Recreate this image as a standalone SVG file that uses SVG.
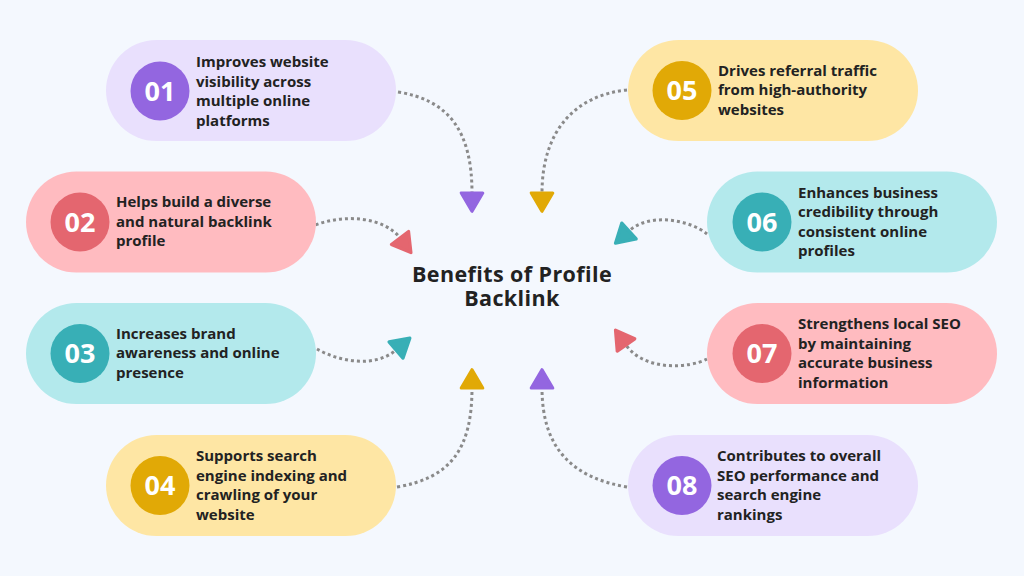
<svg xmlns="http://www.w3.org/2000/svg" width="1024" height="576" viewBox="0 0 1024 576">
<style>
.t{font-family:"Open Sans","Noto Sans","Liberation Sans",sans-serif;font-weight:700;font-size:15px;fill:#222222}
.n{font-family:"Open Sans","Noto Sans","Liberation Sans",sans-serif;font-weight:700;font-size:27px;fill:#ffffff;text-anchor:middle}
.title{font-family:"Open Sans","Noto Sans","Liberation Sans",sans-serif;font-weight:700;font-size:21.5px;letter-spacing:0.4px;fill:#222222;text-anchor:middle}
.c{fill:none;stroke:#8a8a8a;stroke-width:3;stroke-dasharray:3 3}
.pp{fill:#E9E0FD}.pc{fill:#9366E0}
.rp{fill:#FFBBC0}.rc{fill:#E4666F}
.cp{fill:#B3E9EC}.cc{fill:#38AFB6}
.yp{fill:#FEE6A4}.yc{fill:#E1A906}
</style>
<defs>
<marker id="aP" markerUnits="userSpaceOnUse" markerWidth="30" markerHeight="30" viewBox="-4 -14 28 28" refX="0" refY="0" orient="auto"><path d="M0,-10 L17,0 L0,10 Z" fill="#9366E0" stroke="#9366E0" stroke-width="3" stroke-linejoin="round"/></marker>
<marker id="aR" markerUnits="userSpaceOnUse" markerWidth="30" markerHeight="30" viewBox="-4 -14 28 28" refX="0" refY="0" orient="auto"><path d="M0,-10 L17,0 L0,10 Z" fill="#E4666F" stroke="#E4666F" stroke-width="3" stroke-linejoin="round"/></marker>
<marker id="aC" markerUnits="userSpaceOnUse" markerWidth="30" markerHeight="30" viewBox="-4 -14 28 28" refX="0" refY="0" orient="auto"><path d="M0,-10 L17,0 L0,10 Z" fill="#38AFB6" stroke="#38AFB6" stroke-width="3" stroke-linejoin="round"/></marker>
<marker id="aY" markerUnits="userSpaceOnUse" markerWidth="30" markerHeight="30" viewBox="-4 -14 28 28" refX="0" refY="0" orient="auto"><path d="M0,-10 L17,0 L0,10 Z" fill="#E1A906" stroke="#E1A906" stroke-width="3" stroke-linejoin="round"/></marker>
</defs>
<rect width="1024" height="576" fill="#F4F8FE"/>

<g id="connectors">
<path class="c" d="M398,92 C448,100 472,130 472,193" marker-end="url(#aP)"/>
<path class="c" d="M310,227 C345,212 385,218 400,238" marker-end="url(#aR)"/>
<path class="c" d="M317,349 C340,362 375,368 396,350" marker-end="url(#aC)"/>
<path class="c" d="M397,487 C450,478 472,450 472,388" marker-end="url(#aY)"/>
<path class="c" d="M627,90 C576,95 542,130 542,193" marker-end="url(#aY)"/>
<path class="c" d="M707,234 C690,220 650,212 629,231" marker-end="url(#aC)"/>
<path class="c" d="M707,359 C690,368 645,372 626,345" marker-end="url(#aR)"/>
<path class="c" d="M627,487 C574,478 542,450 542,388" marker-end="url(#aP)"/>
</g>

<g id="title">
<text class="title"><tspan x="512" y="282">Benefits of Profile</tspan><tspan x="512" y="306">Backlink</tspan></text>
</g>

<g id="node01">
<rect class="pp" x="106" y="40" width="290" height="101" rx="50.5"/>
<circle class="pc" cx="160" cy="91" r="29.5"/>
<text class="n" x="160" y="100.5">01</text>
<text class="t"><tspan x="196" y="67">Improves website</tspan><tspan x="196" y="86.5">visibility across</tspan><tspan x="196" y="106">multiple online</tspan><tspan x="196" y="125.5">platforms</tspan></text>
</g>

<g id="node02">
<rect class="rp" x="26" y="171.5" width="290" height="101" rx="50.5"/>
<circle class="rc" cx="80" cy="222" r="29.5"/>
<text class="n" x="80" y="231.5">02</text>
<text class="t"><tspan x="116" y="207">Helps build a diverse</tspan><tspan x="116" y="226.5">and natural backlink</tspan><tspan x="116" y="246">profile</tspan></text>
</g>

<g id="node03">
<rect class="cp" x="26" y="303" width="290" height="101" rx="50.5"/>
<circle class="cc" cx="80" cy="353.5" r="29.5"/>
<text class="n" x="80" y="363">03</text>
<text class="t"><tspan x="116" y="338.5">Increases brand</tspan><tspan x="116" y="358">awareness and online</tspan><tspan x="116" y="377.5">presence</tspan></text>
</g>

<g id="node04">
<rect class="yp" x="106" y="435" width="290" height="101" rx="50.5"/>
<circle class="yc" cx="160" cy="485.5" r="29.5"/>
<text class="n" x="160" y="495">04</text>
<text class="t"><tspan x="196" y="461">Supports search</tspan><tspan x="196" y="480.5">engine indexing and</tspan><tspan x="196" y="500">crawling of your</tspan><tspan x="196" y="519.5">website</tspan></text>
</g>

<g id="node05">
<rect class="yp" x="628" y="40" width="290" height="101" rx="50.5"/>
<circle class="yc" cx="682" cy="90.5" r="29.5"/>
<text class="n" x="682" y="100">05</text>
<text class="t"><tspan x="718" y="75.5">Drives referral traffic</tspan><tspan x="718" y="95">from high-authority</tspan><tspan x="718" y="114.5">websites</tspan></text>
</g>

<g id="node06">
<rect class="cp" x="707" y="171.5" width="290" height="101" rx="50.5"/>
<circle class="cc" cx="762" cy="222" r="29.5"/>
<text class="n" x="762" y="231.5">06</text>
<text class="t"><tspan x="798" y="197.5">Enhances business</tspan><tspan x="798" y="217">credibility through</tspan><tspan x="798" y="236.5">consistent online</tspan><tspan x="798" y="256">profiles</tspan></text>
</g>

<g id="node07">
<rect class="rp" x="707" y="303" width="290" height="101" rx="50.5"/>
<circle class="rc" cx="762" cy="353.5" r="29.5"/>
<text class="n" x="762" y="363">07</text>
<text class="t"><tspan x="798" y="329">Strengthens local SEO</tspan><tspan x="798" y="348.5">by maintaining</tspan><tspan x="798" y="368">accurate business</tspan><tspan x="798" y="387.5">information</tspan></text>
</g>

<g id="node08">
<rect class="pp" x="628" y="435" width="290" height="101" rx="50.5"/>
<circle class="pc" cx="682" cy="485.5" r="29.5"/>
<text class="n" x="682" y="495">08</text>
<text class="t"><tspan x="717" y="461">Contributes to overall</tspan><tspan x="717" y="480.5">SEO performance and</tspan><tspan x="717" y="500">search engine</tspan><tspan x="717" y="519.5">rankings</tspan></text>
</g>
</svg>
